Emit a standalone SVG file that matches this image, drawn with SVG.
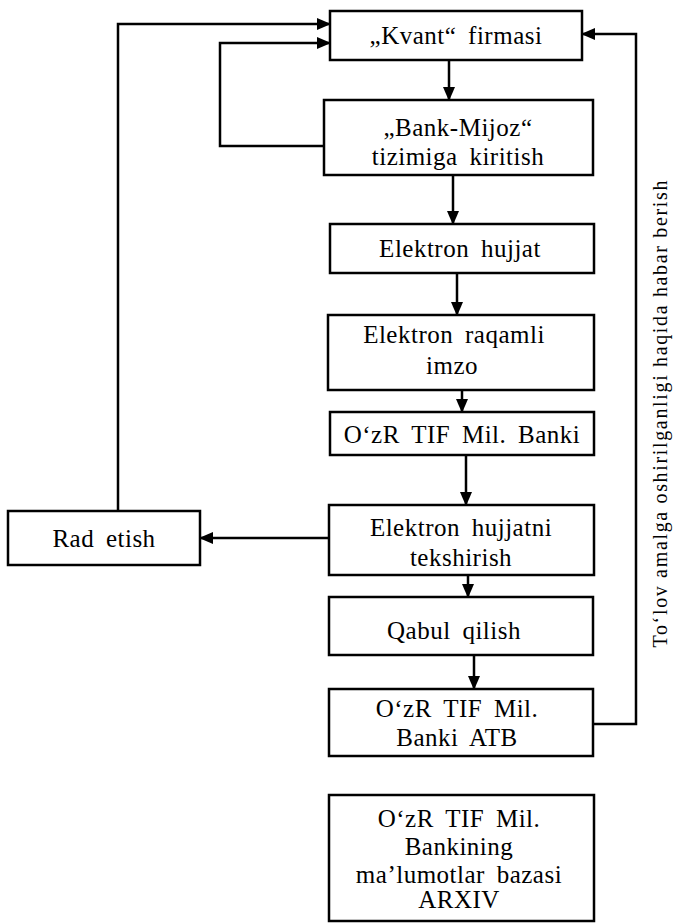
<svg xmlns="http://www.w3.org/2000/svg" width="673" height="924" viewBox="0 0 673 924">
<style>
.box{fill:#fff;stroke:#000;stroke-width:2.5}
.t{font-family:"Liberation Serif","Times New Roman",serif;font-size:25px;letter-spacing:0.5px;word-spacing:5px;text-anchor:middle;fill:#000}
.c{fill:none;stroke:#000;stroke-width:2.5}
</style>
<defs>
<marker id="ah" markerWidth="14" markerHeight="12" refX="13" refY="6" orient="auto" markerUnits="userSpaceOnUse">
<path d="M0,0 L14,6 L0,12 Z" fill="#000"/>
</marker>
</defs>
<g id="kvant"><rect class="box" x="330" y="11" width="252" height="49"/><text class="t" x="456" y="44">„Kvant“ firmasi</text></g>
<g id="bankmijoz"><rect class="box" x="324" y="100" width="269" height="75"/><text class="t" x="458" y="136">„Bank-Mijoz“</text><text class="t" x="458" y="165">tizimiga kiritish</text></g>
<g id="ehujjat"><rect class="box" x="330" y="224" width="264" height="49"/><text class="t" x="460" y="257">Elektron hujjat</text></g>
<g id="imzo"><rect class="box" x="328" y="315" width="266" height="75"/><text class="t" x="454" y="343">Elektron raqamli</text><text class="t" x="452" y="374">imzo</text></g>
<g id="banki"><rect class="box" x="330" y="412" width="264" height="43"/><text class="t" x="462" y="443">O‘zR TIF Mil. Banki</text></g>
<g id="tekshirish"><rect class="box" x="329" y="505" width="265" height="70"/><text class="t" x="461" y="536">Elektron hujjatni</text><text class="t" x="461" y="566">tekshirish</text></g>
<g id="rad"><rect class="box" x="8" y="511" width="192" height="54"/><text class="t" x="104" y="547">Rad etish</text></g>
<g id="qabul"><rect class="box" x="329" y="597" width="264" height="58"/><text class="t" x="454" y="639">Qabul qilish</text></g>
<g id="atb"><rect class="box" x="329" y="689" width="264" height="67"/><text class="t" x="457" y="717">O‘zR TIF Mil.</text><text class="t" x="457" y="746">Banki ATB</text></g>
<g id="arxiv"><rect class="box" x="329" y="795" width="265" height="126"/><text class="t" x="459" y="827">O‘zR TIF Mil.</text><text class="t" x="459" y="855">Bankining</text><text class="t" x="459" y="883">ma’lumotlar bazasi</text><text class="t" x="459" y="908">ARXIV</text></g>
<g id="label"><text x="667" y="414" transform="rotate(-90 667 414)" font-family="'Liberation Serif','Times New Roman',serif" font-size="20" text-anchor="middle" textLength="467" lengthAdjust="spacing">To‘lov amalga oshirilganligi haqida habar berish</text></g>
<g id="connectors">
<path class="c" d="M449,60 V100" marker-end="url(#ah)"/>
<path class="c" d="M453,175 V224" marker-end="url(#ah)"/>
<path class="c" d="M457,273 V315" marker-end="url(#ah)"/>
<path class="c" d="M462,390 V412" marker-end="url(#ah)"/>
<path class="c" d="M466,455 V505" marker-end="url(#ah)"/>
<path class="c" d="M468,575 V597" marker-end="url(#ah)"/>
<path class="c" d="M474,655 V689" marker-end="url(#ah)"/>
<path class="c" d="M329,538 H200" marker-end="url(#ah)"/>
<path class="c" d="M118,511 V24 H330" marker-end="url(#ah)"/>
<path class="c" d="M324,146 H220 V43 H330" marker-end="url(#ah)"/>
<path class="c" d="M593,724 H636 V34 H582" marker-end="url(#ah)"/>
</g>
</svg>
